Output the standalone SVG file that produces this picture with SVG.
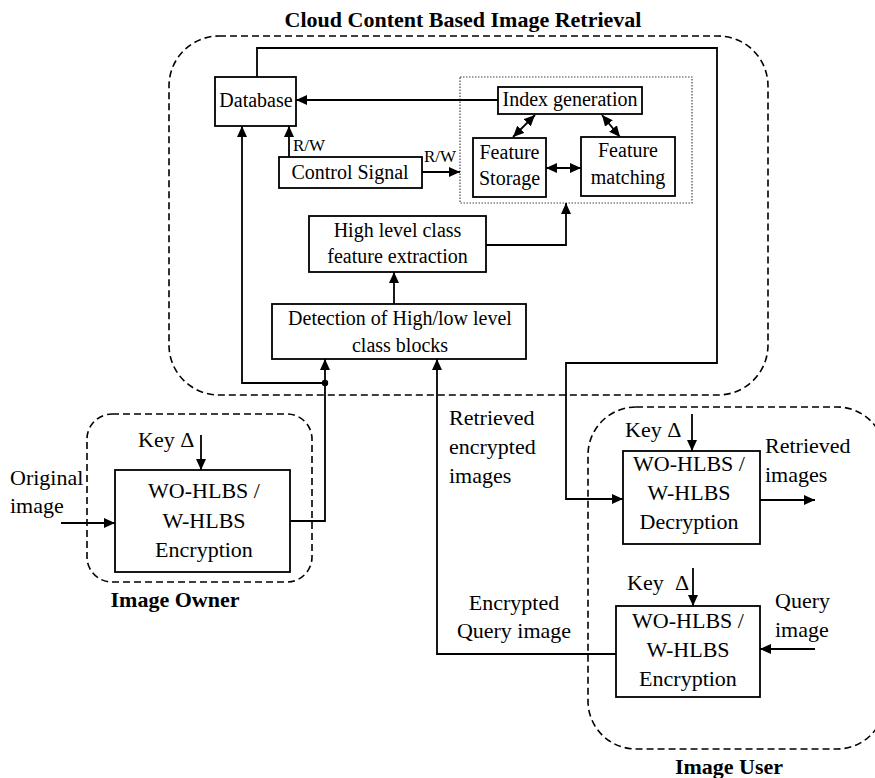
<svg xmlns="http://www.w3.org/2000/svg" width="875" height="778" viewBox="0 0 875 778">
<defs>
<marker id="ah" markerUnits="userSpaceOnUse" markerWidth="12" markerHeight="10" refX="11" refY="5" orient="auto-start-reverse">
<path d="M0,0 L11,5 L0,10 z" fill="#000"/>
</marker>
<style>
text{font-family:"Liberation Serif","Times New Roman",serif;fill:#000}
.t20{font-size:20px}
.t22{font-size:22px}
.rw{font-size:17px}
.b{font-size:22px;font-weight:bold}
.m{text-anchor:middle}
.box{fill:#fff;stroke:#000;stroke-width:1.8}
.dash{fill:none;stroke:#000;stroke-width:1.6;stroke-dasharray:7 4}
.dot{fill:none;stroke:#444;stroke-width:1.2;stroke-dasharray:1.5 1.5}
.c{fill:none;stroke:#000;stroke-width:1.8}
.a{marker-end:url(#ah)}
.d{marker-start:url(#ah);marker-end:url(#ah)}
</style>
</defs>
<rect width="875" height="778" fill="#fff"/>

<g id="cloud">
<rect class="dash" x="169" y="36" width="599" height="359" rx="50"/>
<text class="b m" x="463" y="27">Cloud Content Based Image Retrieval</text>
</g>
<g id="owner-region">
<rect class="dash" x="87" y="414" width="225" height="168" rx="25"/>
<text class="b m" x="175" y="607">Image Owner</text>
</g>
<g id="user-region">
<rect class="dash" x="588" y="407" width="297" height="342" rx="48"/>
<text class="b m" x="729" y="774">Image User</text>
</g>
<rect id="index-group" class="dot" x="460" y="77" width="232" height="126"/>

<g id="connectors">
<path class="c a" d="M257,77 V48 H717 V363 H566 V499 H623"/>
<path class="c a" d="M498,100 H296"/>
<path class="c a" d="M289,157 V126"/>
<path class="c a" d="M422,172 H460"/>
<path class="c d" d="M535,115 L513,137"/>
<path class="c d" d="M602,115 L620,137"/>
<path class="c d" d="M546,168 H581"/>
<path class="c a" d="M486,245 H566 V203"/>
<path class="c a" d="M394,304 V272"/>
<path class="c a" d="M290,521 H325 V359"/>
<path class="c a" d="M325,383 H242 V126"/>
<circle cx="325" cy="383" r="3.2" fill="#000"/>
<path class="c a" d="M616,654 H437 V359"/>
<path class="c a" d="M61,523 H115"/>
<path class="c a" d="M201,435 V470"/>
<path class="c a" d="M692,414 V451"/>
<path class="c a" d="M693,568 V606"/>
<path class="c a" d="M760,500 H815"/>
<path class="c a" d="M815,649 H760"/>
<text class="rw" x="293" y="151">R/W</text>
<text class="rw" x="424" y="162">R/W</text>
<text class="t22" x="449" y="425">Retrieved</text>
<text class="t22" x="449" y="454">encrypted</text>
<text class="t22" x="449" y="483">images</text>
<text class="t22" x="765" y="453">Retrieved</text>
<text class="t22" x="765" y="482">images</text>
<text class="t22" x="10" y="485">Original</text>
<text class="t22" x="10" y="513">image</text>
<text class="t22" x="775" y="608">Query</text>
<text class="t22" x="775" y="637">image</text>
<text class="t22 m" x="514" y="610">Encrypted</text>
<text class="t22 m" x="514" y="638">Query image</text>
<text class="t22" x="138" y="447">Key Δ</text>
<text class="t22" x="625" y="437">Key Δ</text>
<text class="t22" x="627" y="590">Key <tspan x="675">Δ</tspan></text>
</g>

<g id="database">
<rect class="box" x="215" y="77" width="81" height="49"/>
<text class="t20 m" x="256" y="107">Database</text>
</g>
<g id="control-signal">
<rect class="box" x="279" y="157" width="143" height="31"/>
<text class="t20 m" x="350" y="179">Control Signal</text>
</g>
<g id="index-generation">
<rect class="box" x="498" y="87" width="144" height="27"/>
<text class="t20 m" x="570" y="106">Index generation</text>
</g>
<g id="feature-storage">
<rect class="box" x="473" y="138" width="73" height="59"/>
<text class="t20 m" x="509.5" y="159">Feature</text>
<text class="t20 m" x="509.5" y="185">Storage</text>
</g>
<g id="feature-matching">
<rect class="box" x="581" y="137" width="94" height="59"/>
<text class="t20 m" x="628" y="157">Feature</text>
<text class="t20 m" x="628" y="184">matching</text>
</g>
<g id="high-level">
<rect class="box" x="309" y="216" width="177" height="56"/>
<text class="t20 m" x="397.5" y="237">High level class</text>
<text class="t20 m" x="397.5" y="263">feature extraction</text>
</g>
<g id="detection">
<rect class="box" x="272" y="304" width="254" height="55"/>
<text class="t20 m" x="400" y="325">Detection of High/low level</text>
<text class="t20 m" x="400" y="352">class blocks</text>
</g>
<g id="owner-encryption">
<rect class="box" x="115" y="470" width="175" height="102"/>
<text class="t22 m" x="204" y="498">WO-HLBS /</text>
<text class="t22 m" x="204" y="528">W-HLBS</text>
<text class="t22 m" x="204" y="557">Encryption</text>
</g>
<g id="user-decryption">
<rect class="box" x="623" y="451" width="137" height="93"/>
<text class="t22 m" x="689" y="471">WO-HLBS /</text>
<text class="t22 m" x="689" y="500">W-HLBS</text>
<text class="t22 m" x="689" y="529">Decryption</text>
</g>
<g id="user-encryption">
<rect class="box" x="616" y="606" width="144" height="91"/>
<text class="t22 m" x="688" y="628">WO-HLBS /</text>
<text class="t22 m" x="688" y="657">W-HLBS</text>
<text class="t22 m" x="688" y="686">Encryption</text>
</g>
</svg>
